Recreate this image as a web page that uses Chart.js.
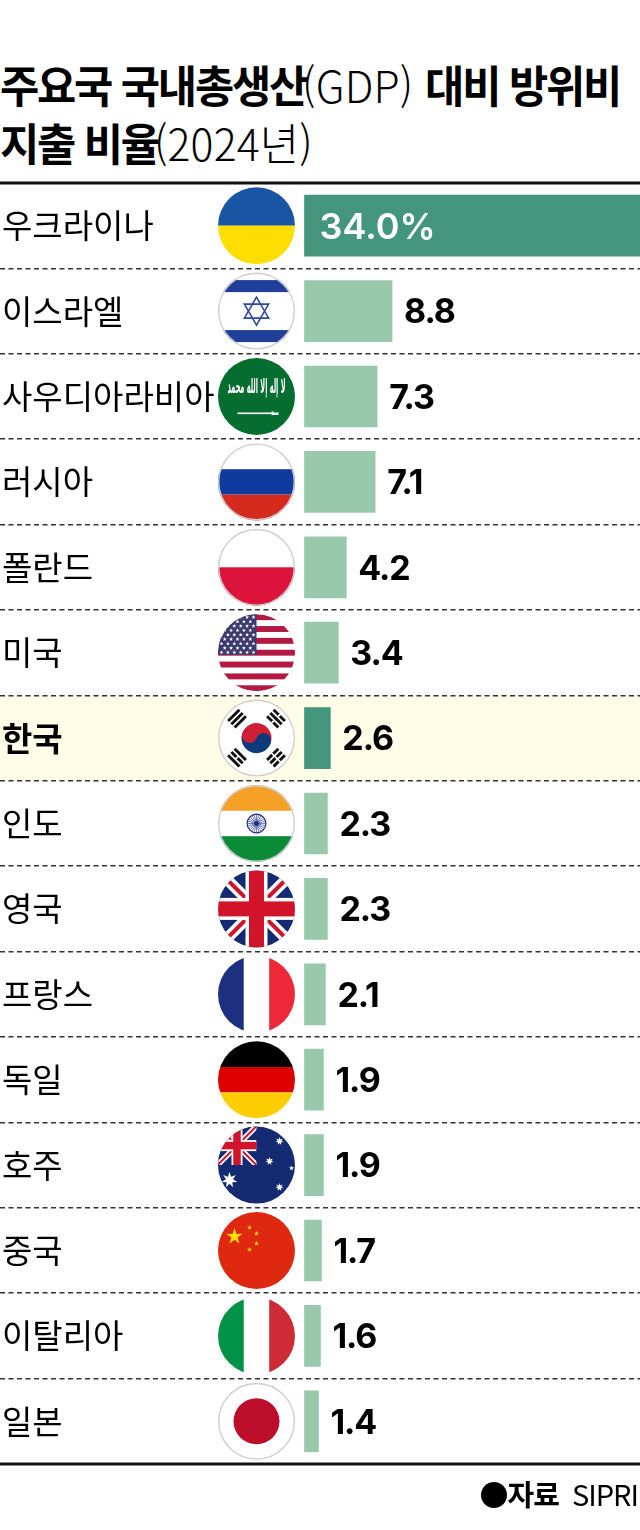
<!DOCTYPE html>
<html lang="ko">
<head>
<meta charset="utf-8">
<title>주요국 국내총생산(GDP) 대비 방위비 지출 비율(2024년)</title>
<script src="https://cdn.jsdelivr.net/npm/chart.js@4"></script>
<style>
  html, body { margin: 0; padding: 0; background: #fff; }
  body { width: 640px; height: 1530px; position: relative; overflow: hidden; font-family: "Noto Sans CJK KR", sans-serif; color: #000; }
  #wrap { position: absolute; left: 0; top: 0; width: 640px; height: 1530px; }
  .title { position: absolute; left: 0; white-space: nowrap; font-size: 44px; line-height: 58px; font-weight: 700; letter-spacing: -2.3px; transform-origin: left top; transform: scaleX(.97); }
  .title span { font-weight: 300; letter-spacing: .2px; margin-left: -4px; margin-right: 2px; }
  #source { position: absolute; right: 2px; top: 1474px; font-size: 29px; line-height: 38px; white-space: nowrap; letter-spacing: -1px; }
  #source b { font-weight: 700; margin-right: 13px; }
</style>
</head>
<body>
<div class="title" style="top:55px">주요국 국내총생산<span>(GDP)</span> 대비 방위비</div>
<div class="title" style="top:113px">지출 비율<span>(2024년)</span></div>
<div id="wrap"><canvas id="chart"></canvas></div>
<div id="source"><b>●자료</b>SIPRI</div>
<script>
const countries = ["우크라이나", "이스라엘", "사우디아라비아", "러시아", "폴란드", "미국", "한국", "인도", "영국", "프랑스", "독일", "호주", "중국", "이탈리아", "일본"];
const values = [34.0, 8.8, 7.3, 7.1, 4.2, 3.4, 2.6, 2.3, 2.3, 2.1, 1.9, 1.9, 1.7, 1.6, 1.4];
const flags = ["ua", "il", "sa", "ru", "pl", "us", "kr", "in", "gb", "fr", "de", "au", "cn", "it", "jp"];
const highlightName = "한국";

const LIGHT = "#97c9aa";
const DARK = "#43957b";
const UNIT = 9.95; // px per 1%
const FLAG_X = 256.5;
const FLAG_R = 38.5;

function star(c, x, y, r, points, inner, rot) {
    c.beginPath();
    for (let i = 0; i < points * 2; i++) {
        const rr = i % 2 ? r * inner : r;
        const a = (rot || -Math.PI / 2) + i * Math.PI / points;
        c.lineTo(x + rr * Math.cos(a), y + rr * Math.sin(a));
    }
    c.closePath();
    c.fill();
}
function rect(c, color, x, y, w, h) { c.fillStyle = color; c.fillRect(x, y, w, h); }

// union jack inside x0..x1, y0..y1
function jack(c, x0, y0, x1, y1, k) {
    const w = x1 - x0, h = y1 - y0;
    c.save();
    c.beginPath(); c.rect(x0, y0, w, h); c.clip();
    rect(c, "#142a72", x0, y0, w, h);
    c.lineCap = "butt";
    c.strokeStyle = "#fff"; c.lineWidth = 11 * k;
    c.beginPath(); c.moveTo(x0, y0); c.lineTo(x1, y1); c.moveTo(x1, y0); c.lineTo(x0, y1); c.stroke();
    c.strokeStyle = "#d2142a"; c.lineWidth = 4 * k;
    c.beginPath(); c.moveTo(x0, y0); c.lineTo(x1, y1); c.moveTo(x1, y0); c.lineTo(x0, y1); c.stroke();
    const mx = (x0 + x1) / 2, my = (y0 + y1) / 2;
    rect(c, "#fff", mx - 11 * k, y0, 22 * k, h);
    rect(c, "#fff", x0, my - 11 * k, w, 22 * k);
    rect(c, "#d2142a", mx - 7.5 * k, y0, 15 * k, h);
    rect(c, "#d2142a", x0, my - 7.5 * k, w, 15 * k);
    c.restore();
}

const flagPainters = {
    ua(c) { rect(c, "#1a55a3", -39, -39, 78, 39); rect(c, "#fedd00", -39, 0, 78, 39); },
    il(c) {
        rect(c, "#fff", -39, -39, 78, 78);
        rect(c, "#1f3f9a", -39, -31, 78, 12); rect(c, "#1f3f9a", -39, 19, 78, 12);
        c.strokeStyle = "#2c4aa3"; c.lineWidth = 1.6;
        [-Math.PI / 2, Math.PI / 2].forEach(a => {
            c.beginPath();
            for (let i = 0; i < 3; i++) c.lineTo(14 * Math.cos(a + i * 2 * Math.PI / 3), 14 * Math.sin(a + i * 2 * Math.PI / 3));
            c.closePath(); c.stroke();
        });
    },
    sa(c) {
        rect(c, "#066d30", -39, -39, 78, 78);
        c.fillStyle = "#fff"; c.textAlign = "center"; c.textBaseline = "middle";
        c.font = "bold 15px 'DejaVu Sans'";
        c.save(); c.translate(0, -9); c.scale(1, 1.35);
        c.fillText("لا إله إلا الله محمد", 0, 0, 58);
        c.restore();
        rect(c, "#fff", -19, 16, 36, 1.6); rect(c, "#fff", 15, 15, 2, 3.6); rect(c, "#fff", 17, 16, 5, 2.4);
    },
    ru(c) { rect(c, "#fff", -39, -39, 78, 27); rect(c, "#0f3ba0", -39, -12.7, 78, 25.4); rect(c, "#d52b1e", -39, 12.7, 78, 27); },
    pl(c) { rect(c, "#fff", -39, -39, 78, 39); rect(c, "#dc143c", -39, 0, 78, 39); },
    us(c) {
        rect(c, "#fff", -39, -39, 78, 78);
        const s = 77 / 13;
        for (let i = 0; i < 13; i += 2) rect(c, "#b31942", -39, -38.5 + i * s, 78, s);
        rect(c, "#3c3b6e", -39, -39, 39, 41);
        c.fillStyle = "#fff";
        for (let r = 0; r < 9; r++) {
            const n = r % 2 ? 5 : 6;
            for (let i = 0; i < n; i++) star(c, -35 + (r % 2 ? 3.2 : 0) + i * 6.4, -35.5 + r * 4.4, 2.1, 5, .42);
        }
    },
    kr(c) {
        rect(c, "#fff", -39, -39, 78, 78);
        const R = 15;
        c.save(); c.rotate(Math.PI * 0.11);
        c.fillStyle = "#cd1f36"; c.beginPath(); c.arc(0, 0, R, Math.PI, 0); c.fill();
        c.fillStyle = "#0d3a7a"; c.beginPath(); c.arc(0, 0, R, 0, Math.PI); c.fill();
        c.fillStyle = "#cd1f36"; c.beginPath(); c.arc(-R / 2, 0, R / 2, 0, Math.PI * 2); c.fill();
        c.fillStyle = "#0d3a7a"; c.beginPath(); c.arc(R / 2, 0, R / 2, 0, Math.PI * 2); c.fill();
        c.restore();
        // trigrams: [angle, breaks per bar]
        [[-Math.PI * 3 / 4, [0, 0, 0]], [-Math.PI / 4, [1, 0, 1]], [Math.PI / 4, [1, 1, 1]], [Math.PI * 3 / 4, [0, 1, 0]]].forEach(([a, br]) => {
            c.save(); c.rotate(a);
            br.forEach((b, i) => {
                const x = 21.5 + i * 4.6;
                if (b) { rect(c, "#111", x, -8, 2.9, 7.2); rect(c, "#111", x, 0.8, 2.9, 7.2); }
                else rect(c, "#111", x, -8, 2.9, 16);
            });
            c.restore();
        });
    },
    in(c) {
        rect(c, "#f4a026", -39, -39, 78, 26.4); rect(c, "#fff", -39, -12.7, 78, 25.4); rect(c, "#0b8a37", -39, 12.7, 78, 27);
        c.strokeStyle = "#1c2c8c"; c.lineWidth = 1.2;
        c.beginPath(); c.arc(0, 0, 9.4, 0, Math.PI * 2); c.stroke();
        c.lineWidth = .6;
        for (let i = 0; i < 24; i++) {
            const a = i * Math.PI / 12;
            c.beginPath(); c.moveTo(0, 0); c.lineTo(9 * Math.cos(a), 9 * Math.sin(a)); c.stroke();
        }
        c.fillStyle = "#1c2c8c"; c.beginPath(); c.arc(0, 0, 2.2, 0, Math.PI * 2); c.fill();
    },
    gb(c) { jack(c, -39, -39, 39, 39, 1); },
    fr(c) { rect(c, "#1f2f7f", -39, -39, 26.4, 78); rect(c, "#fff", -12.7, -39, 25.4, 78); rect(c, "#ed2939", 12.7, -39, 27, 78); },
    de(c) { rect(c, "#000", -39, -39, 78, 26.4); rect(c, "#dd0000", -39, -12.7, 78, 25.4); rect(c, "#ffce00", -39, 12.7, 78, 27); },
    au(c) {
        rect(c, "#142a72", -39, -39, 78, 78);
        jack(c, -39, -39, 0, 0, .5);
        c.fillStyle = "#fff";
        star(c, -27, 15, 8, 7, .45);
        star(c, 23, -24, 4.2, 7, .45);
        star(c, 13, -4, 4.2, 7, .45);
        star(c, 35, 3, 2.6, 5, .45);
        star(c, 23, 22, 4.2, 7, .45);
    },
    cn(c) {
        rect(c, "#de2910", -39, -39, 78, 78);
        c.fillStyle = "#ffde00";
        star(c, -22, -14, 8.5, 5, .38);
        star(c, -7, -23, 2.8, 5, .38);
        star(c, 0, -17, 2.8, 5, .38);
        star(c, 0, -7, 2.8, 5, .38);
        star(c, -7, -1, 2.8, 5, .38);
    },
    it(c) { rect(c, "#009246", -39, -39, 26.4, 78); rect(c, "#fff", -12.7, -39, 25.4, 78); rect(c, "#ce2b37", 12.7, -39, 27, 78); },
    jp(c) {
        rect(c, "#fff", -39, -39, 78, 78);
        c.fillStyle = "#bc0d2a"; c.beginPath(); c.arc(0, 0, 23, 0, Math.PI * 2); c.fill();
    }
};
const ringed = ["il", "ru", "pl", "kr", "in", "jp"];

const rowPlugin = {
    id: "rowPlugin",
    beforeDraw(chart) {
        const { ctx, chartArea, scales } = chart;
        const i = countries.indexOf(highlightName);
        const band = chartArea.height / countries.length;
        ctx.save();
        ctx.fillStyle = "#fffde8";
        ctx.fillRect(chartArea.left, scales.y.getPixelForValue(i) - band / 2, chartArea.width, band);
        ctx.restore();
    },
    afterDatasetsDraw(chart) {
        const { ctx, scales } = chart;
        flags.forEach((key, i) => {
            const cy = scales.y.getPixelForValue(i);
            ctx.save();
            ctx.translate(FLAG_X, cy);
            ctx.save();
            ctx.beginPath(); ctx.arc(0, 0, FLAG_R, 0, Math.PI * 2); ctx.clip();
            flagPainters[key](ctx);
            ctx.restore();
            if (ringed.includes(key)) {
                ctx.strokeStyle = "#cfcfcf"; ctx.lineWidth = 1.4;
                ctx.beginPath(); ctx.arc(0, 0, FLAG_R - .7, 0, Math.PI * 2); ctx.stroke();
            }
            ctx.restore();
        });
        // value labels
        ctx.save();
        ctx.textBaseline = "middle";
        ctx.textAlign = "left";
        values.forEach((v, i) => {
            const y = scales.y.getPixelForValue(i) + 2;
            if (i === 0) {
                ctx.fillStyle = "#fff";
                ctx.font = "600 36px Inter";
                ctx.letterSpacing = "0px";
                ctx.fillText(v.toFixed(1) + "%", scales.x.getPixelForValue(0) + 15, y);
            } else {
                ctx.fillStyle = "#000";
                ctx.font = "700 34px Inter";
                ctx.letterSpacing = "-1.1px";
                ctx.fillText(v.toFixed(1), scales.x.getPixelForValue(v) + 12, y);
            }
        });
        ctx.restore();
    },
    afterDraw(chart) {
        const { ctx, chartArea } = chart;
        ctx.save();
        ctx.strokeStyle = "#111"; ctx.lineWidth = 3;
        [chartArea.top, chartArea.bottom].forEach(y => {
            ctx.beginPath(); ctx.moveTo(0, y); ctx.lineTo(640, y); ctx.stroke();
        });
        ctx.restore();
    }
};

const chart = new Chart(document.getElementById("chart"), {
    type: "bar",
    data: {
        labels: countries,
        datasets: [{
            data: values,
            backgroundColor: countries.map((c, i) => (i === 0 || c === highlightName) ? DARK : LIGHT),
            barThickness: 61,
            borderWidth: 0
        }]
    },
    options: {
        indexAxis: "y",
        responsive: true,
        maintainAspectRatio: false,
        animation: false,
        layout: { padding: { top: 183, bottom: 66, left: 0, right: 0 } },
        plugins: { legend: { display: false }, tooltip: { enabled: false } },
        scales: {
            x: {
                display: false,
                min: -304.5 / UNIT,
                max: 335.5 / UNIT
            },
            y: {
                afterFit(scale) { scale.width = 0; },
                grid: { color: "#333", lineWidth: 1.5, drawTicks: false, offset: true },
                border: { display: false, dash: [5, 3.5] },
                ticks: {
                    mirror: true,
                    padding: 2,
                    color: "#000",
                    font: ctx => ({
                        family: "'Noto Sans CJK KR'",
                        size: 33,
                        weight: countries[ctx.index] === highlightName ? "700" : "400"
                    })
                }
            }
        }
    },
    plugins: [rowPlugin]
});
</script>
</body>
</html>
